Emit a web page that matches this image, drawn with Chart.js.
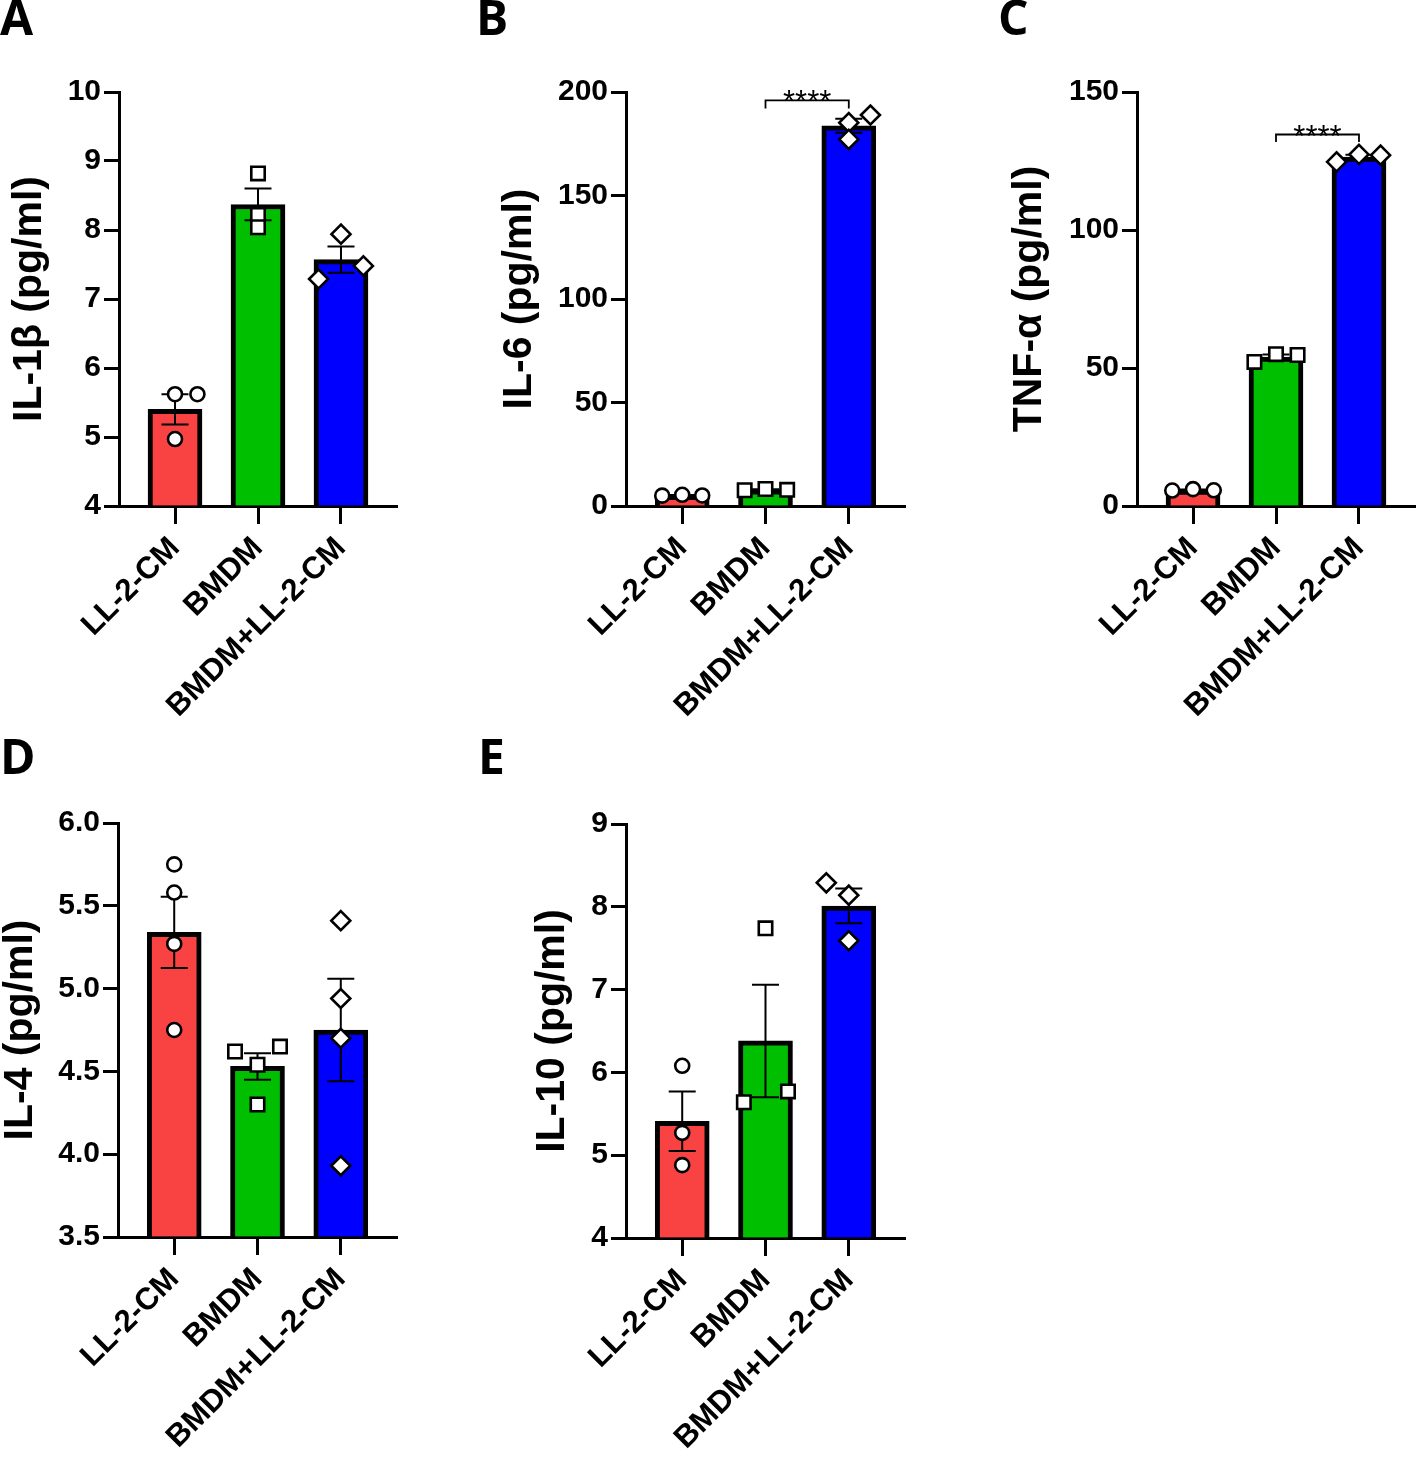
<!DOCTYPE html>
<html><head><meta charset="utf-8">
<script src="https://cdn.jsdelivr.net/npm/chart.js@4/dist/chart.umd.min.js"></script>
<style>
body{margin:0;background:#fff;width:1416px;height:1457px;position:relative;overflow:hidden}
canvas{position:absolute}
.letter{position:absolute;font-family:"Open Sans",sans-serif;font-weight:700;font-size:48px;line-height:1;color:#000;z-index:5}
</style></head><body>
<div class="letter" style="left:0px;top:-7px">A</div>
<div class="letter" style="left:476px;top:-7px">B</div>
<div class="letter" style="left:998px;top:-7px">C</div>
<div class="letter" style="left:0px;top:732px">D</div>
<div class="letter" style="left:478px;top:732px">E</div>
<canvas id="cA" width="470" height="700" style="left:0px;top:40px"></canvas>
<canvas id="cB" width="490" height="700" style="left:470px;top:40px"></canvas>
<canvas id="cC" width="500" height="700" style="left:960px;top:40px"></canvas>
<canvas id="cD" width="470" height="677" style="left:0px;top:780px"></canvas>
<canvas id="cE" width="490" height="677" style="left:470px;top:780px"></canvas>
<script>
// ---------- data ----------
const categories = ['LL-2-CM', 'BMDM', 'BMDM+LL-2-CM'];

// A: IL-1β
const meanA = [5.40, 8.37, 7.57];
const semA  = [0.22, 0.23, 0.19];
const ptsA  = [[5.62, 5.62, 4.97], [8.82, 8.22, 8.04], [7.94, 7.29, 7.48]];
const jitA  = [[0, 0.27, 0], [0, 0, 0], [0, -0.27, 0.27]];
const ticksA = {min: 4, max: 10, step: 1};

// B: IL-6
const meanB = [5.17, 7.87, 183.7];
const semB  = [0.12, 0.18, 3.4];
const ptsB  = [[5.0, 5.4, 5.1], [7.6, 8.2, 7.8], [185.2, 177.1, 188.9]];
const jitB  = [[-0.24, 0, 0.24], [-0.25, 0, 0.26], [0, 0, 0.26]];
const ticksB = {min: 0, max: 200, step: 50};
const sigB  = {from: 1, to: 2, value: 196, drop: 192, label: '****'};

// C: TNF-α
const meanC = [5.8, 54.0, 126.4];
const semC  = [0.15, 0.85, 0.85];
const ptsC  = [[5.6, 6.1, 5.7], [52.2, 55.0, 54.7], [124.7, 127.4, 127.1]];
const jitC  = [[-0.25, 0, 0.25], [-0.26, 0, 0.26], [-0.27, 0, 0.26]];
const ticksC = {min: 0, max: 150, step: 50};
const sigC  = {from: 1, to: 2, value: 134.6, drop: 131.9, label: '****'};

// D: IL-4
const meanD = [5.34, 4.53, 4.75];
const semD  = [0.215, 0.08, 0.31];
const ptsD  = [[5.75, 5.58, 5.27, 4.75], [4.62, 4.65, 4.54, 4.30], [5.41, 4.94, 4.70, 3.93]];
const jitD  = [[0, 0, 0, 0], [-0.27, 0.27, 0, 0], [0, 0, 0, 0]];
const ticksD = {min: 3.5, max: 6.0, step: 0.5};

// E: IL-10
const meanE = [5.41, 6.38, 8.01];
const semE  = [0.36, 0.68, 0.21];
const ptsE  = [[6.08, 5.27, 4.88], [7.74, 5.64, 5.77], [8.29, 8.14, 7.59]];
const jitE  = [[0, 0, 0], [0, -0.26, 0.27], [-0.27, 0, 0]];
const ticksE = {min: 4, max: 9, step: 1};

// ---------- styles ----------
const barColors = ['#F94343', '#00BE00', '#0000FF'];
const pointStyles = ['circle', 'rect', 'rectRot'];
const pointRadii = [7, 9.5, 9.5];
Chart.defaults.font.family = '"Liberation Sans", Arial, sans-serif';
Chart.defaults.color = '#000';

const errorBarPlugin = {
  id: 'errbars',
  afterDatasetDraw(chart, args) {
    if (args.meta.type !== 'bar') return;
    const ds = chart.data.datasets[args.index];
    const xs = chart.scales.x, ys = chart.scales.y;
    const ctx = chart.ctx;
    ctx.save();
    ctx.strokeStyle = '#000';
    ctx.lineWidth = 2;
    ds.sem.forEach((s, i) => {
      const m = ds.data[i].y;
      const x = xs.getPixelForValue(ds.data[i].x);
      const yt = ys.getPixelForValue(m + s);
      const yb = ys.getPixelForValue(m - s);
      ctx.beginPath();
      ctx.moveTo(x, yt); ctx.lineTo(x, yb);
      ctx.moveTo(x - 13.5, yt); ctx.lineTo(x + 13.5, yt);
      ctx.moveTo(x - 13.5, yb); ctx.lineTo(x + 13.5, yb);
      ctx.stroke();
    });
    ctx.restore();
  }
};

const sigPlugin = {
  id: 'sig',
  afterDatasetsDraw(chart, args, opts) {
    const sig = opts.sig;
    if (!sig) return;
    const xs = chart.scales.x, ys = chart.scales.y;
    const ctx = chart.ctx;
    const x1 = xs.getPixelForValue(sig.from), x2 = xs.getPixelForValue(sig.to);
    const y = ys.getPixelForValue(sig.value), yd = ys.getPixelForValue(sig.drop);
    ctx.save();
    ctx.strokeStyle = '#000';
    ctx.lineWidth = 1.8;
    ctx.beginPath();
    ctx.moveTo(x1, yd); ctx.lineTo(x1, y); ctx.lineTo(x2, y); ctx.lineTo(x2, yd);
    ctx.stroke();
    ctx.fillStyle = '#000';
    ctx.font = '31px "Liberation Sans", Arial, sans-serif';
    ctx.textAlign = 'center';
    ctx.textBaseline = 'alphabetic';
    ctx.fillText(sig.label, (x1 + x2) / 2, y + 12);
    ctx.restore();
  }
};

function makePanel(id, geo, title, mean, sem, pts, jit, tk, sig, decimals) {
  const datasets = [{
    type: 'bar',
    data: mean.map((m, i) => ({x: i, y: m})),
    sem: sem,
    backgroundColor: barColors,
    borderColor: '#000',
    borderWidth: 5,
    barThickness: 54,
    base: tk.min,
    order: 5
  }];
  pts.forEach((grp, g) => {
    datasets.push({
      type: 'scatter',
      data: grp.map((v, k) => ({x: g + jit[g][k], y: v})),
      pointStyle: pointStyles[g],
      pointRadius: pointRadii[g],
      pointBackgroundColor: '#fff',
      pointBorderColor: '#000',
      pointBorderWidth: 2.6,
      order: 1
    });
  });
  new Chart(document.getElementById(id), {
    type: 'bar',
    data: {datasets},
    plugins: [errorBarPlugin, sigPlugin],
    options: {
      responsive: false,
      animation: false,
      devicePixelRatio: 1,
      events: [],
      layout: {padding: {left: geo.padL, right: geo.padR, top: geo.padT, bottom: 0}},
      plugins: {legend: {display: false}, tooltip: {enabled: false}, sig: {sig: sig}},
      scales: {
        x: {
          type: 'linear',
          offset: false,
          min: -0.675, max: 2.675,
          afterBuildTicks: s => { s.ticks = [0, 1, 2].map(v => ({value: v})); },
          afterFit: s => { s.height = geo.xH; },
          ticks: {
            callback: v => categories[v],
            autoSkip: false, maxRotation: 45, minRotation: 45,
            font: {size: 31, weight: 'bold'}, color: '#000', padding: 6
          },
          grid: {display: true, offset: false, drawOnChartArea: false, drawTicks: true, tickLength: 18, tickWidth: 3, tickColor: '#000'},
          border: {display: true, width: 3, color: '#000'}
        },
        y: {
          min: tk.min, max: tk.max,
          afterFit: s => { s.width = geo.yW; },
          ticks: {
            stepSize: tk.step,
            callback: v => decimals ? Number(v).toFixed(decimals) : String(Math.round(v * 100) / 100),
            font: {size: 30, weight: 'bold'}, color: '#000', padding: 3
          },
          grid: {display: true, drawOnChartArea: false, drawTicks: true, tickLength: 15, tickWidth: 3, tickColor: '#000'},
          border: {display: true, width: 3, color: '#000'},
          title: {display: true, text: title, font: {size: 41, weight: 'bold', lineHeight: 1}, color: '#000', padding: 0}
        }
      }
    }
  });
}

makePanel('cA', {padL: 9.5, yW: 109.5, padR: 73, padT: 52, xH: 234}, 'IL-1\u03B2 (pg/ml)', meanA, semA, ptsA, jitA, ticksA, null, 0);
makePanel('cB', {padL: 29.5, yW: 126.5, padR: 55, padT: 52, xH: 234}, 'IL-6 (pg/ml)', meanB, semB, ptsB, jitB, ticksB, sigB, 0);
makePanel('cC', {padL: 49.5, yW: 127.5, padR: 45, padT: 52, xH: 234}, 'TNF-\u03B1 (pg/ml)', meanC, semC, ptsC, jitC, ticksC, sigC, 0);
makePanel('cD', {padL: 0, yW: 118, padR: 73, padT: 43, xH: 220}, 'IL-4 (pg/ml)', meanD, semD, ptsD, jitD, ticksD, null, 1);
makePanel('cE', {padL: 62.5, yW: 93.5, padR: 55, padT: 44, xH: 219}, 'IL-10 (pg/ml)', meanE, semE, ptsE, jitE, ticksE, null, 0);
</script>
</body></html>
